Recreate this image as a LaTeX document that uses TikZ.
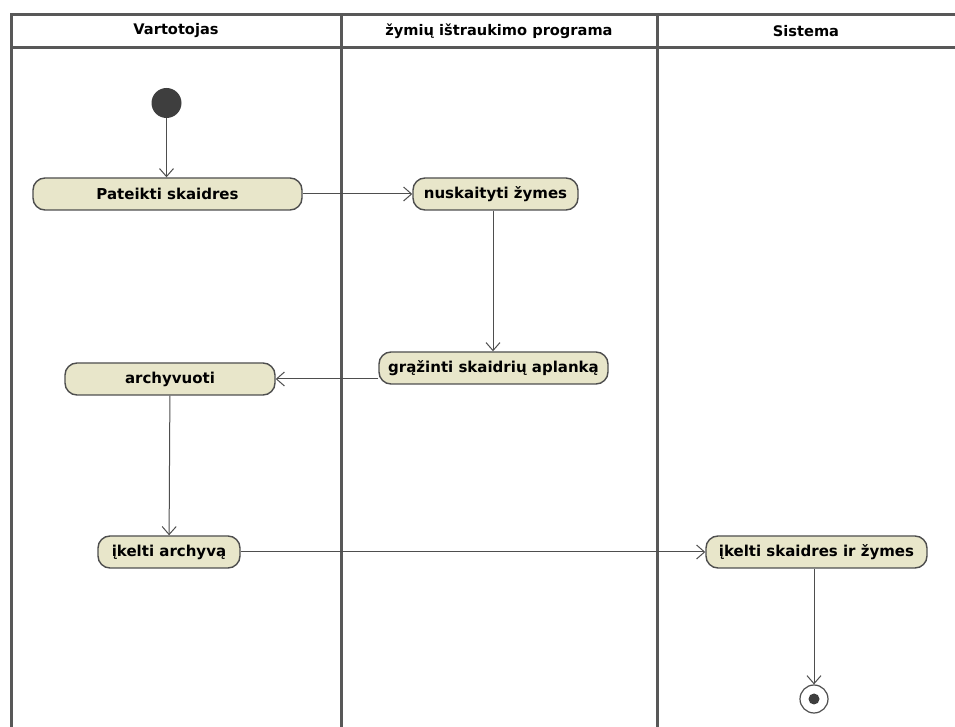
\documentclass[tikz,border=0pt]{standalone}
\usepackage{fontspec}
\setmainfont{DejaVu Sans}
\usepackage{tikz}
\usetikzlibrary{
    arrows.meta,
    positioning,
    calc
}
\definecolor{actfill}{RGB}{232,230,202}
\definecolor{actline}{RGB}{78,78,78}
\definecolor{laneline}{RGB}{88,88,88}
\definecolor{dotgray}{RGB}{62,62,62}
\tikzstyle{action} = [
    rectangle,
    rounded corners=6pt,
    draw=actline,
    line width=0.7pt,
    fill=actfill,
    minimum height=16pt,
    inner sep=0pt,
    font=\fontsize{7.5}{9}\selectfont\bfseries
]
\tikzstyle{flow} = [
    -{Straight Barb[length=4pt,width=7pt]},
    draw=actline,
    line width=0.5pt
]
\tikzstyle{lane} = [
    draw=laneline,
    line width=1.5pt
]
\tikzstyle{lanehead} = [
    font=\fontsize{7.3}{9}\selectfont\bfseries
]

\begin{document}
\begin{tikzpicture}[x=0.5pt, y=-0.5pt]
        \useasboundingbox (0,0) rectangle (955,727);

        % Swimlanes
        \draw[lane] (955,15) -- (11,15) -- (11,727);
        \draw[lane] (11,48) -- (955,48);
        \draw[lane] (341,15) -- (341,727);
        \draw[lane] (657,15) -- (657,727);
        \node[lanehead] (hdruser) at (176,31) {Vartotojas};
        \node[lanehead] (hdrprog) at (499,31) {žymių ištraukimo programa};
        \node[lanehead] (hdrsys) at (806,31) {Sistema};

        % Start / end
        \node[circle, fill=dotgray, minimum size=15pt, inner sep=0pt] (start) at (166.5,103) {};
        \node[circle, draw=actline, line width=0.6pt, minimum size=14pt, inner sep=0pt] (stop) at (814,699) {};
        \node[circle, fill=dotgray, minimum size=5.5pt, inner sep=0pt] (stopdot) at (stop) {};

        % Actions
        \node[action, minimum width=134.5pt] (pateikti) at (167.5,194) {Pateikti skaidres};
        \node[action, minimum width=82.5pt] (nuskaityti) at (495.5,194) {nuskaityti žymes};
        \node[action, minimum width=114.5pt] (grazinti) at (493.5,368) {grąžinti skaidrių aplanką};
        \node[action, minimum width=105pt] (archyvuoti) at (170,379) {archyvuoti};
        \node[action, minimum width=71pt] (ikeltiarch) at (169,552) {įkelti archyvą};
        \node[action, minimum width=110.5pt] (ikeltisk) at (816.5,552) {įkelti skaidres ir žymes};

        % Flows
        \draw[flow] (start) -- (start |- pateikti.north);
        \draw[flow] (pateikti) -- (nuskaityti);
        \draw[flow] (nuskaityti.south -| 493,0) -- (grazinti.north -| 493,0);
        \draw[flow] (grazinti.west |- archyvuoti.east) -- (archyvuoti.east);
        \draw[flow] (archyvuoti) -- (ikeltiarch);
        \draw[flow] (ikeltiarch) -- (ikeltisk);
        \draw[flow] (ikeltisk.south -| stop) -- (stop);
    \end{tikzpicture}
\end{document}
